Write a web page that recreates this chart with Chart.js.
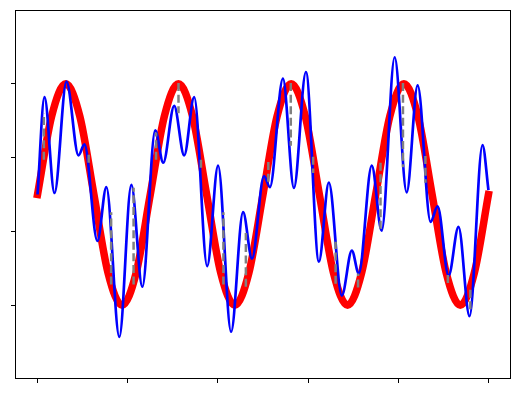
<!DOCTYPE html>
<html>
<head>
<meta charset="utf-8">
<script src="https://cdn.jsdelivr.net/npm/chart.js@4.4.1/dist/chart.umd.min.js"></script>
<style>
  html, body { margin: 0; padding: 0; background: #fff; }
  canvas { display: block; }
</style>
</head>
<body>
<canvas id="waveChart" width="520" height="394"></canvas>
<script>
// tick positions (labels are hidden in the original)
const xTicks = [0, 1, 2, 3, 4, 5];
const yTicks = [-1.5, -0.5, 0.5, 1.5];

// red reference wave, read every 1/8 period
const redX = [0, 0.15625, 0.3125, 0.46875, 0.625, 0.78125, 0.9375, 1.09375,
              1.25, 1.40625, 1.5625, 1.71875, 1.875, 2.03125, 2.1875, 2.34375,
              2.5, 2.65625, 2.8125, 2.96875, 3.125, 3.28125, 3.4375, 3.59375,
              3.75, 3.90625, 4.0625, 4.21875, 4.375, 4.53125, 4.6875, 4.84375, 5];
const redY = [0, 1.06, 1.5, 1.06, 0, -1.06, -1.5, -1.06,
              0, 1.06, 1.5, 1.06, 0, -1.06, -1.5, -1.06,
              0, 1.06, 1.5, 1.06, 0, -1.06, -1.5, -1.06,
              0, 1.06, 1.5, 1.06, 0, -1.06, -1.5, -1.06, 0];

// blue noisy curve, peaks and valleys
const blueX = [0, 0.077, 0.188, 0.321, 0.454, 0.520, 0.664, 0.763, 0.907, 1.040,
               1.162, 1.305, 1.394, 1.515, 1.626, 1.737, 1.881, 2.002, 2.146, 2.279,
               2.378, 2.511, 2.577, 2.721, 2.843, 2.976, 3.120, 3.230, 3.374, 3.485,
               3.562, 3.706, 3.816, 3.960, 4.093, 4.215, 4.358, 4.436, 4.558, 4.668,
               4.790, 4.934, 5];
const blueY = [0, 1.32, 0.02, 1.53, 0.53, 0.68, -0.63, 0.10, -1.93, 0.13,
               -1.25, 0.87, 0.43, 1.20, 0.53, 1.32, -0.97, 0.39, -1.86, -0.24,
               -0.87, 0.25, 0.10, 1.57, 0.09, 1.66, -0.91, 0.16, -1.37, -0.76,
               -1.07, 0.39, -0.49, 1.86, 0.03, 1.48, -0.37, -0.16, -1.10, -0.44,
               -1.65, 0.67, 0.06];

// gray dashed residuals at the sample points
const sampleX = [0.070, 0.319, 0.567, 0.816, 1.065, 1.314, 1.563, 1.812, 2.061, 2.310,
                 2.559, 2.808, 3.056, 3.305, 3.554, 3.803, 4.052, 4.301, 4.550, 4.799];
const sampleRed = [0.47, 1.51, 0.43, -1.22, -1.22, 0.47, 1.51, 0.47, -1.22, -1.25,
                   0.44, 1.51, 0.51, -1.21, -1.26, 0.43, 1.51, 0.52, -1.20, -1.29];
const sampleBlue = [1.10, 1.51, 0.56, -0.24, 0.09, 0.84, 1.10, 0.33, -0.24, -0.52,
                    0.14, 0.66, 0.29, -0.64, -1.07, -0.49, 0.37, 0.16, -1.06, -1.56];

const redPts = redX.map((x, i) => ({ x: x, y: redY[i] }));
const bluePts = blueX.map((x, i) => ({ x: x, y: blueY[i] }));
const grayPts = [];
sampleX.forEach((x, i) => {
    grayPts.push({ x: x, y: sampleRed[i] }, { x: x, y: sampleBlue[i] }, { x: x, y: null });
});

// matplotlib-style box around the axes
const frameBox = {
    id: 'frameBox',
    afterDatasetsDraw(chart) {
        const { ctx, chartArea: a } = chart;
        ctx.save();
        ctx.strokeStyle = '#000';
        ctx.lineWidth = 1;
        ctx.strokeRect(a.left + 0.5, a.top + 0.5, a.right - a.left - 1, a.bottom - a.top - 1);
        ctx.restore();
    }
};

new Chart(document.getElementById('waveChart'), {
    type: 'line',
    data: {
        datasets: [{
            data: redPts,
            order: 3, // bottom layer
            borderColor: '#ff0000',
            borderWidth: 7.5,
            borderCapStyle: 'square',
            cubicInterpolationMode: 'monotone',
            pointRadius: 0
        }, {
            data: bluePts,
            order: 2,
            borderColor: '#0000ff',
            borderWidth: 2.7,
            cubicInterpolationMode: 'monotone',
            pointRadius: 0
        }, {
            data: grayPts,
            order: 1, // on top
            borderColor: '#808080',
            borderWidth: 2.5,
            borderDash: [8, 3.6],
            spanGaps: false,
            tension: 0,
            pointRadius: 0
        }]
    },
    options: {
        responsive: false,
        animation: false,
        events: [],
        layout: { padding: { left: 11, right: 9, top: 10, bottom: 11 } },
        plugins: { legend: { display: false }, tooltip: { enabled: false } },
        scales: {
            x: {
                type: 'linear',
                min: -0.25,
                max: 5.25,
                afterBuildTicks: s => { s.ticks = xTicks.map(v => ({ value: v })); },
                ticks: { display: false },
                grid: { drawOnChartArea: false, drawTicks: true, tickLength: 4, color: '#000' },
                border: { display: false }
            },
            y: {
                type: 'linear',
                min: -2.5,
                max: 2.5,
                afterBuildTicks: s => { s.ticks = yTicks.map(v => ({ value: v })); },
                ticks: { display: false },
                grid: { drawOnChartArea: false, drawTicks: true, tickLength: 4, color: '#000' },
                border: { display: false }
            }
        }
    },
    plugins: [frameBox]
});
</script>
</body>
</html>
